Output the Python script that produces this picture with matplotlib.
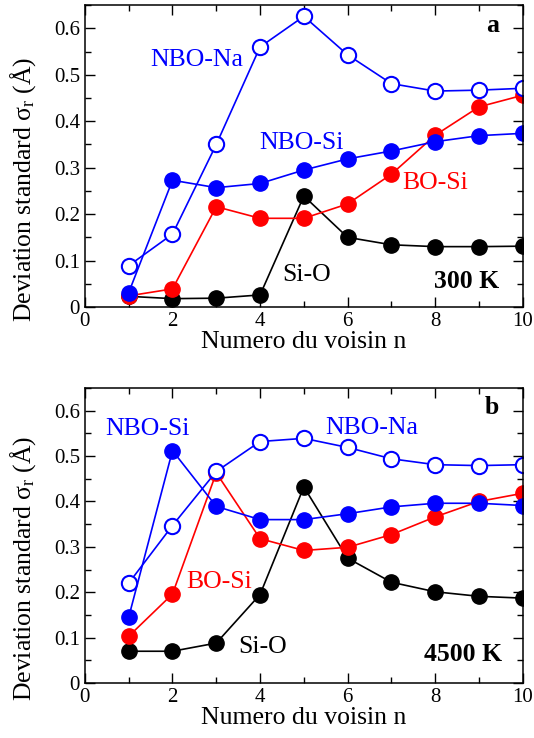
import matplotlib
matplotlib.use("Agg")
import matplotlib.pyplot as plt
from matplotlib.ticker import MultipleLocator

# ─── data ─────────────────────────────────────────────────────────────────────
n = [1, 2, 3, 4, 5, 6, 7, 8, 9, 10]

# panel a : 300 K
si_o_300   = [0.023, 0.018, 0.019, 0.026, 0.239, 0.150, 0.134, 0.130, 0.130, 0.131]
bo_si_300  = [0.024, 0.039, 0.216, 0.191, 0.191, 0.222, 0.286, 0.370, 0.431, 0.456]
nbo_si_300 = [0.031, 0.273, 0.257, 0.266, 0.295, 0.319, 0.336, 0.356, 0.369, 0.374]
nbo_na_300 = [0.089, 0.157, 0.350, 0.560, 0.626, 0.543, 0.481, 0.465, 0.467, 0.471]

# panel b : 4500 K
si_o_4500   = [0.070, 0.070, 0.088, 0.195, 0.432, 0.275, 0.222, 0.201, 0.191, 0.187]
bo_si_4500  = [0.103, 0.196, 0.463, 0.318, 0.292, 0.299, 0.327, 0.366, 0.400, 0.418]
nbo_si_4500 = [0.145, 0.512, 0.389, 0.360, 0.360, 0.373, 0.388, 0.396, 0.396, 0.391]
nbo_na_4500 = [0.220, 0.347, 0.466, 0.532, 0.539, 0.519, 0.494, 0.481, 0.479, 0.481]

plt.rcParams["font.family"] = ["Liberation Serif", "DejaVu Serif"]
plt.rcParams["mathtext.fontset"] = "custom"
plt.rcParams["mathtext.rm"] = "Liberation Serif"
plt.rcParams["mathtext.it"] = "Liberation Serif:italic"

FS = 18.5
MS = 11
LW = 1.2

fig = plt.figure(figsize=(5.34, 7.38), dpi=100)
ax_a = fig.add_axes([0.159, 0.584, 0.820, 0.409])
ax_b = fig.add_axes([0.159, 0.0745, 0.820, 0.3998])


def draw(ax, si_o, bo_si, nbo_si, nbo_na):
    ax.plot(n, si_o, "-o", color="black", lw=LW, ms=MS, mfc="black", mec="black")
    ax.plot(n, bo_si, "-o", color="red", lw=LW, ms=MS, mfc="red", mec="red")
    ax.plot(n, nbo_si, "-o", color="blue", lw=LW, ms=MS, mfc="blue", mec="blue")
    ax.plot(n, nbo_na, "-o", color="blue", lw=LW, ms=MS, mfc="white", mec="blue",
            mew=1.5)
    ax.set_xlim(0, 10)
    ax.set_ylim(0, 0.65)
    ax.xaxis.set_major_locator(MultipleLocator(2))
    ax.xaxis.set_minor_locator(MultipleLocator(1))
    ax.yaxis.set_major_locator(MultipleLocator(0.1))
    ax.yaxis.set_minor_locator(MultipleLocator(0.05))
    ax.set_yticks([0, 0.1, 0.2, 0.3, 0.4, 0.5, 0.6])
    ax.set_yticklabels(["0", "0.1", "0.2", "0.3", "0.4", "0.5", "0.6"])
    ax.tick_params(which="both", direction="in", top=True, right=True,
                   width=1.0, labelsize=15)
    ax.tick_params(which="major", length=7)
    ax.tick_params(which="minor", length=4)
    for s in ax.spines.values():
        s.set_linewidth(1.1)
    ax.set_xlabel("Numero du voisin n", fontsize=FS, labelpad=0)
    ax.set_ylabel("Deviation standard σ$_\\mathrm{r}$ (Å)", fontsize=FS, va="center")
    ax.yaxis.set_label_coords(-0.141, 0.39)


draw(ax_a, si_o_300, bo_si_300, nbo_si_300, nbo_na_300)
draw(ax_b, si_o_4500, bo_si_4500, nbo_si_4500, nbo_na_4500)

kw = dict(fontsize=FS, ha="center", va="center")
ax_a.text(2.56, 0.531, "NBO-Na", color="blue", **kw)
ax_a.text(4.95, 0.353, "NBO-Si", color="blue", **kw)
ax_a.text(7.99, 0.267, "BO-Si", color="red", **kw)
ax_a.text(5.07, 0.069, "Si-O", color="black", **kw)
ax_a.text(8.72, 0.054, "300 K", color="black", fontweight="bold", **kw)
ax_a.text(9.32, 0.607, "a", color="black", fontweight="bold", **kw)

ax_b.text(1.44, 0.560, "NBO-Si", color="blue", **kw)
ax_b.text(6.55, 0.562, "NBO-Na", color="blue", **kw)
ax_b.text(3.06, 0.223, "BO-Si", color="red", **kw)
ax_b.text(4.06, 0.079, "Si-O", color="black", **kw)
ax_b.text(8.63, 0.062, "4500 K", color="black", fontweight="bold", **kw)
ax_b.text(9.29, 0.606, "b", color="black", fontweight="bold", **kw)

fig.savefig("out.png", dpi=100)
plt.close(fig)
